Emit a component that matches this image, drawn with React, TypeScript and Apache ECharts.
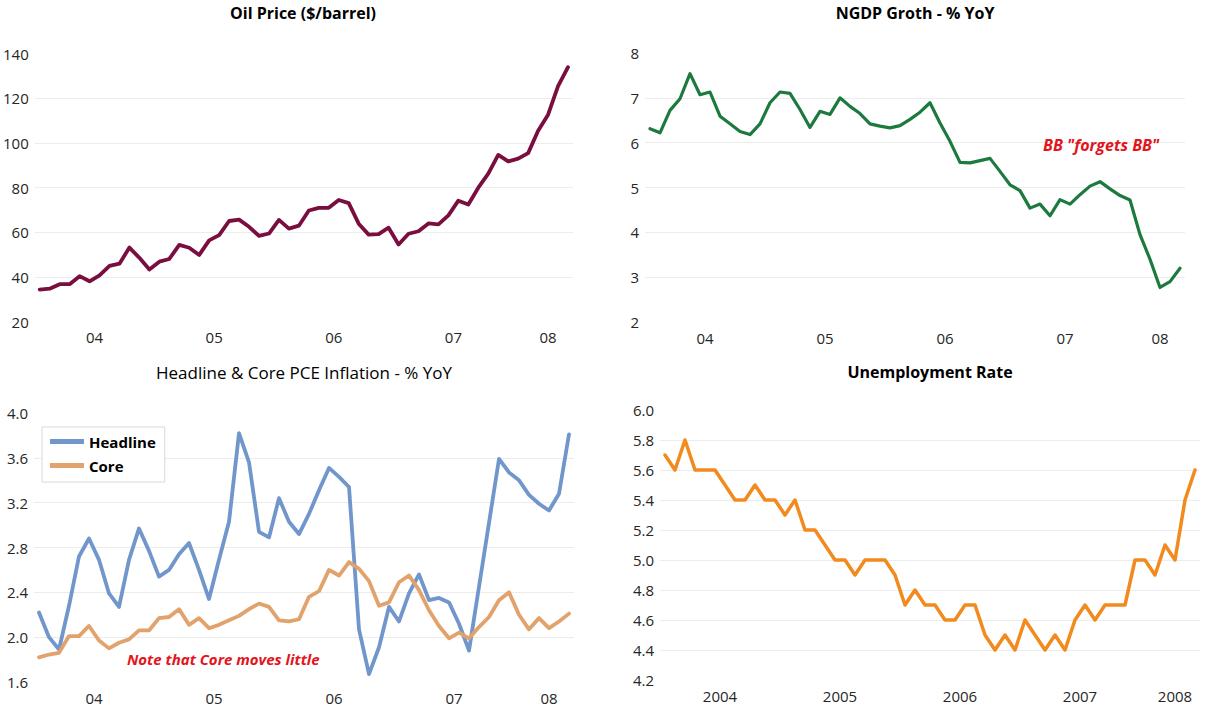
import React, { useEffect, useRef } from "react";
import * as echarts from "echarts";

// Monthly observations, Jan 2004 .. Jun 2008 (54 months)
const months: string[] = [];
for (let y = 2004; y <= 2008; y++) {
  for (let m = 1; m <= 12; m++) {
    if (y === 2008 && m > 6) break;
    months.push(`${y}-${String(m).padStart(2, "0")}`);
  }
}

const oilPrice = [
  34.3, 34.7, 36.7, 36.7, 40.3, 38.0, 40.7, 44.9, 45.9, 53.1, 48.5, 43.3,
  46.8, 48.0, 54.3, 53.0, 49.8, 56.3, 58.7, 65.0, 65.6, 62.4, 58.3, 59.4,
  65.5, 61.6, 62.9, 69.7, 70.9, 70.9, 74.4, 73.0, 63.8, 58.9, 59.1, 62.0,
  54.5, 59.3, 60.4, 63.9, 63.5, 67.5, 74.1, 72.4, 79.9, 86.2, 94.6, 91.7,
  92.9, 95.4, 105.4, 112.6, 125.4, 133.9,
];

const ngdpGrowth = [
  6.31, 6.22, 6.72, 6.98, 7.54, 7.07, 7.13, 6.59, 6.42, 6.25,
  6.18, 6.42, 6.89, 7.13, 7.1, 6.74, 6.34, 6.7, 6.63, 7.0,
  6.81, 6.65, 6.42, 6.37, 6.33, 6.38, 6.52, 6.68, 6.89, 6.44,
  6.03, 5.56, 5.55, 5.6, 5.65, 5.36, 5.06, 4.93, 4.54, 4.63,
  4.37, 4.73, 4.63, 4.84, 5.03, 5.13, 4.97, 4.82, 4.72, 3.95,
  3.4, 2.77, 2.9, 3.2,
];

const headlinePce = [
  2.22, 2.0, 1.89, 2.28, 2.72, 2.88, 2.69, 2.39, 2.27, 2.69,
  2.97, 2.77, 2.54, 2.6, 2.74, 2.84, 2.6, 2.34, 2.69, 3.03,
  3.82, 3.56, 2.94, 2.89, 3.24, 3.03, 2.92, 3.1, 3.31, 3.51,
  3.43, 3.34, 2.07, 1.67, 1.91, 2.27, 2.14, 2.39, 2.56, 2.33,
  2.35, 2.31, 2.12, 1.88, 2.45, 3.02, 3.59, 3.47, 3.4, 3.27,
  3.19, 3.13, 3.28, 3.81,
];

const corePce = [
  1.82, 1.845, 1.86, 2.01, 2.01, 2.1, 1.97, 1.9, 1.95, 1.98,
  2.06, 2.06, 2.17, 2.18, 2.25, 2.11, 2.17, 2.08, 2.11, 2.15,
  2.19, 2.25, 2.3, 2.27, 2.15, 2.14, 2.16, 2.36, 2.41, 2.6,
  2.55, 2.67, 2.61, 2.5, 2.28, 2.31, 2.49, 2.55, 2.42, 2.24,
  2.1, 1.99, 2.04, 1.99, 2.09, 2.18, 2.33, 2.4, 2.2, 2.07,
  2.17, 2.08, 2.14, 2.21,
];

const unemploymentRate = [
  5.7, 5.6, 5.8, 5.6, 5.6, 5.6, 5.5, 5.4, 5.4, 5.5, 5.4, 5.4,
  5.3, 5.4, 5.2, 5.2, 5.1, 5.0, 5.0, 4.9, 5.0, 5.0, 5.0, 4.9,
  4.7, 4.8, 4.7, 4.7, 4.6, 4.6, 4.7, 4.7, 4.5, 4.4, 4.5, 4.4,
  4.6, 4.5, 4.4, 4.5, 4.4, 4.6, 4.7, 4.6, 4.7, 4.7, 4.7, 5.0,
  5.0, 4.9, 5.1, 5.0, 5.4, 5.6,
];

// Year labels, placed at the middle of each year's months
const shortYearLabels = ["04", "05", "06", "07", "08"];
const longYearLabels = ["2004", "2005", "2006", "2007", "2008"];
const yearLabelPositions = [5.5, 17.5, 29.5, 41.5, 51];

const FONT = "'Open Sans', 'Noto Sans', sans-serif";
const GRID_COLOR = "#ECECEC";
const LABEL_COLOR = "#262626";

const toPairs = (vals: number[]) => vals.map((v, i) => [i, v]);

function makeXAxis(gridIndex: number, labels: string[]) {
  return {
    type: "value",
    gridIndex,
    min: -0.5,
    max: months.length - 0.5,
    interval: 0.5,
    axisLine: { show: false },
    axisTick: { show: false },
    splitLine: { show: false },
    axisLabel: {
      margin: 8,
      fontFamily: FONT,
      fontSize: 15,
      color: LABEL_COLOR,
      showMinLabel: true,
      showMaxLabel: true,
      formatter: (v: number) => {
        const k = yearLabelPositions.findIndex((p) => Math.abs(p - v) < 1e-6);
        return k >= 0 ? labels[k] : "";
      },
    },
  };
}

function makeYAxis(gridIndex: number, min: number, max: number, interval: number, decimals: number) {
  return {
    type: "value",
    gridIndex,
    min,
    max,
    interval,
    axisLine: { show: false },
    axisTick: { show: false },
    axisLabel: {
      margin: 6,
      fontFamily: FONT,
      fontSize: 15,
      color: LABEL_COLOR,
      formatter: (v: number) => v.toFixed(decimals),
    },
    splitLine: {
      show: true,
      showMinLine: false,
      showMaxLine: false,
      lineStyle: { color: GRID_COLOR, width: 1 },
    },
  };
}

function lineSeries(name: string, data: number[], idx: number, color: string, width = 3.5) {
  return {
    name,
    type: "line",
    xAxisIndex: idx,
    yAxisIndex: idx,
    data: toPairs(data),
    symbol: "none",
    lineStyle: { color, width, cap: "round", join: "round" },
    itemStyle: { color },
    z: 3,
  };
}

function titleText(text: string, x: number, y: number, bold: boolean, size = 16) {
  return {
    type: "text",
    x,
    y,
    style: {
      text,
      fill: "#000",
      font: `${bold ? "bold " : ""}${size}px ${FONT}`,
      textAlign: "center",
      textVerticalAlign: "middle",
    },
  };
}

function noteText(text: string, x: number, y: number, size = 15) {
  return {
    type: "text",
    x,
    y,
    z: 10,
    style: {
      text,
      fill: "#E3141C",
      font: `italic bold ${size}px ${FONT}`,
      textAlign: "left",
      textVerticalAlign: "middle",
    },
  };
}

export default function App() {
  const ref = useRef<HTMLDivElement>(null);

  useEffect(() => {
    if (!ref.current) return;
    const chart = echarts.init(ref.current, null, { renderer: "svg" });
    chart.setOption({
      animation: false,
      backgroundColor: "#fff",
      grid: [
        { left: 33, top: 53.5, width: 540, height: 268 },
        { left: 645, top: 53, width: 540, height: 269 },
        { left: 34, top: 413, width: 540, height: 269 },
        { left: 660, top: 410, width: 540, height: 270 },
      ],
      xAxis: [
        makeXAxis(0, shortYearLabels),
        makeXAxis(1, shortYearLabels),
        makeXAxis(2, shortYearLabels),
        makeXAxis(3, longYearLabels),
      ],
      yAxis: [
        makeYAxis(0, 20, 140, 20, 0),
        makeYAxis(1, 2, 8, 1, 0),
        makeYAxis(2, 1.6, 4.0, 0.4, 1),
        makeYAxis(3, 4.2, 6.0, 0.2, 1),
      ],
      legend: {
        data: ["Headline", "Core"],
        orient: "vertical",
        left: 42,
        top: 427,
        icon: "rect",
        itemWidth: 34,
        itemHeight: 5,
        itemGap: 9,
        padding: [7, 9, 9, 8],
        backgroundColor: "#fff",
        borderColor: "#D9D9D9",
        borderWidth: 1,
        textStyle: { fontFamily: FONT, fontSize: 15, fontWeight: "bold", color: "#000" },
        z: 5,
      },
      series: [
        lineSeries("Oil", oilPrice, 0, "#7A0E3F", 3.8),
        lineSeries("NGDP", ngdpGrowth, 1, "#1C7A3E", 3.2),
        lineSeries("Headline", headlinePce, 2, "#7096CC", 3.8),
        lineSeries("Core", corePce, 2, "#E2A26B", 3.8),
        lineSeries("Unemployment", unemploymentRate, 3, "#F28A1E", 3.5),
      ],
      graphic: [
        titleText("Oil Price ($/barrel)", 303, 13, true),
        titleText("NGDP Groth - % YoY", 915, 13, true),
        titleText("Headline & Core PCE Inflation - % YoY", 304, 372, false, 17),
        titleText("Unemployment Rate", 930, 372, true),
        noteText("Note that Core moves little", 127, 659, 15),
        noteText('BB "forgets BB"', 1043, 145, 16),
      ],
    });
    return () => chart.dispose();
  }, []);

  return (
    <div
      ref={ref}
      style={{ position: "absolute", left: 0, top: 0, width: 1217, height: 712, background: "#fff" }}
    />
  );
}
